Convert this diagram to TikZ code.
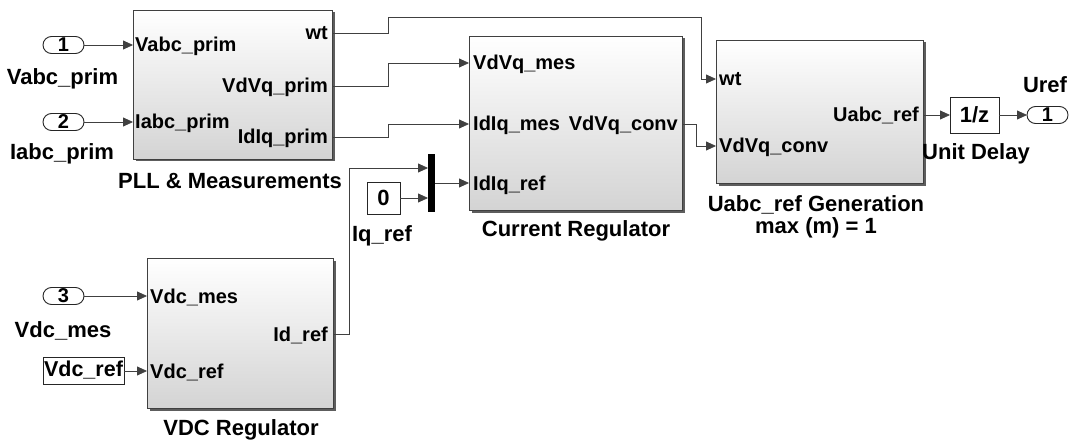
\documentclass[tikz,border=0pt]{standalone}
\usepackage{fontspec}
\setmainfont{Liberation Sans}
\usetikzlibrary{arrows.meta,shadows,shapes.misc}
\begin{document}
\begin{tikzpicture}[x=1pt,y=-1pt,
  blk/.style={draw=black!75, line width=0.8pt, top color=white, bottom color=black!17,
    drop shadow={shadow xshift=2.5pt,shadow yshift=-2.5pt,fill=black!70,opacity=0.9},
    anchor=north west, inner sep=0pt, outer sep=0pt},
  wbox/.style={draw=black!85, line width=0.9pt, fill=white, anchor=north west, inner sep=0pt, outer sep=0pt,
    font=\fontsize{22}{22}\bfseries\selectfont},
  port/.style={draw=black!85, line width=0.9pt, fill=white, rounded rectangle, minimum width=41pt, minimum height=17pt,
    inner sep=0pt, outer sep=0pt, font=\fontsize{20}{20}\bfseries\selectfont},
  plab/.style={inner sep=0pt, font=\fontsize{20}{20}\bfseries\selectfont},
  xlab/.style={inner sep=0pt, anchor=base, font=\fontsize{22}{22}\bfseries\selectfont},
  sig/.style={draw=black!75, line width=0.8pt, -{Triangle[length=10pt,width=9pt]}},
  wire/.style={draw=black!75, line width=0.8pt}
]
\useasboundingbox[fill=white] (0,0) rectangle (1071,441);

% blocks
\node[blk, minimum width=199pt, minimum height=149pt] (pll) at (133,10) {};
\node[blk, minimum width=213pt, minimum height=174pt] (cr) at (469,36) {};
\node[blk, minimum width=207pt, minimum height=143pt] (ug) at (716,40) {};
\node[blk, minimum width=186pt, minimum height=150pt] (vdc) at (147,258) {};
\node[wbox, minimum width=49pt, minimum height=36pt] (ud) at (950,97) {1/z};
\node[wbox, minimum width=33pt, minimum height=32pt] (cst) at (367,182) {0};
\node[wbox, minimum width=81pt, minimum height=27pt, font=\fontsize{21.5}{21.5}\bfseries\selectfont] (vref) at (43,357) {Vdc\_ref};
\node[fill=black, anchor=north west, minimum width=7pt, minimum height=58pt, inner sep=0pt, outer sep=0pt] (mux) at (428,154) {};

% ports
\node[port] (in1) at (63.5,45) {1};
\node[port] (in2) at (63.5,122) {2};
\node[port] (in3) at (63.5,296) {3};
\node[port] (out1) at (1047.5,115) {1};

% port coordinates
\coordinate (pllI1) at (133,45);
\coordinate (pllI2) at (133,122);
\coordinate (pllO1) at (332,33);
\coordinate (pllO2) at (332,86);
\coordinate (pllO3) at (332,137);
\coordinate (crI1) at (469,63);
\coordinate (crI2) at (469,124);
\coordinate (crI3) at (469,183);
\coordinate (crO1) at (682,124);
\coordinate (ugI1) at (716,79);
\coordinate (ugI2) at (716,146);
\coordinate (ugO1) at (923,115);
\coordinate (vdcI1) at (147,296);
\coordinate (vdcI2) at (147,371);
\coordinate (vdcO1) at (333,334);
\coordinate (muxI1) at (428,168);
\coordinate (muxI2) at (428,198);
\coordinate (muxO) at (435,183);
\coordinate (cstO) at (400,198);
\coordinate (udI) at (950,115);
\coordinate (udO) at (999,115);
\coordinate (outI) at (1027,115);
\coordinate (vrefO) at (124,371);
\coordinate (in3O) at (84,296);
\coordinate (in1O) at (84,45);
\coordinate (in2O) at (84,122);
\coordinate (jA) at (388,17);
\coordinate (jB) at (701,79);
\coordinate (jC) at (388,63);
\coordinate (jD) at (388,124);
\coordinate (jE) at (696,146);
\coordinate (jF) at (349,168);

% connectors
\draw[sig] (in1O) -- (pllI1);
\draw[sig] (in2O) -- (pllI2);
\draw[sig] (pllO1) -| (jA) -| (jB) -- (ugI1);
\draw[sig] (pllO2) -| (jC) -- (crI1);
\draw[sig] (pllO3) -| (jD) -- (crI2);
\draw[sig] (crO1) -| (jE) -- (ugI2);
\draw[sig] (ugO1) -- (udI);
\draw[sig] (udO) -- (outI);
\draw[sig] (vdcO1) -| (jF) -- (muxI1);
\draw[sig] (cstO) -- (muxI2);
\draw[sig] (muxO) -- (crI3);
\draw[sig] (in3O) -- (vdcI1);
\draw[sig] (vrefO) -- (vdcI2);

% port labels
\node[plab, anchor=base west] (t1) at (135,52) {Vabc\_prim};
\node[plab, anchor=base west] (t2) at (135,129) {Iabc\_prim};
\node[plab, anchor=base east] (t3) at (328,40) {wt};
\node[plab, anchor=base east] (t4) at (328,93) {VdVq\_prim};
\node[plab, anchor=base east] (t5) at (328,144) {IdIq\_prim};
\node[plab, anchor=base west] (t6) at (473,70) {VdVq\_mes};
\node[plab, anchor=base west] (t7) at (473,131) {IdIq\_mes};
\node[plab, anchor=base west] (t8) at (473,190) {IdIq\_ref};
\node[plab, anchor=base east] (t9) at (678,131) {VdVq\_conv};
\node[plab, anchor=base west] (t10) at (719,86) {wt};
\node[plab, anchor=base west] (t11) at (719,153) {VdVq\_conv};
\node[plab, anchor=base east] (t12) at (919,122) {Uabc\_ref};
\node[plab, anchor=base west] (t13) at (150,303) {Vdc\_mes};
\node[plab, anchor=base west] (t14) at (150,378) {Vdc\_ref};
\node[plab, anchor=base east] (t15) at (328,341) {Id\_ref};

% external labels
\node[xlab] (l1) at (62.5,85) {Vabc\_prim};
\node[xlab] (l2) at (62,160) {Iabc\_prim};
\node[xlab] (l3) at (230,188) {PLL \& Measurements};
\node[xlab] (l4) at (576,236) {Current Regulator};
\node[xlab] (l5) at (382,241) {Iq\_ref};
\node[xlab] (l6) at (816,211) {Uabc\_ref Generation};
\node[xlab] (l7) at (816,233) {max (m) = 1};
\node[xlab] (l8) at (976,160) {Unit Delay};
\node[xlab] (l9) at (1045,93) {Uref};
\node[xlab] (l10) at (63,337) {Vdc\_mes};
\node[xlab] (l11) at (241,435) {VDC Regulator};
\end{tikzpicture}
\end{document}
